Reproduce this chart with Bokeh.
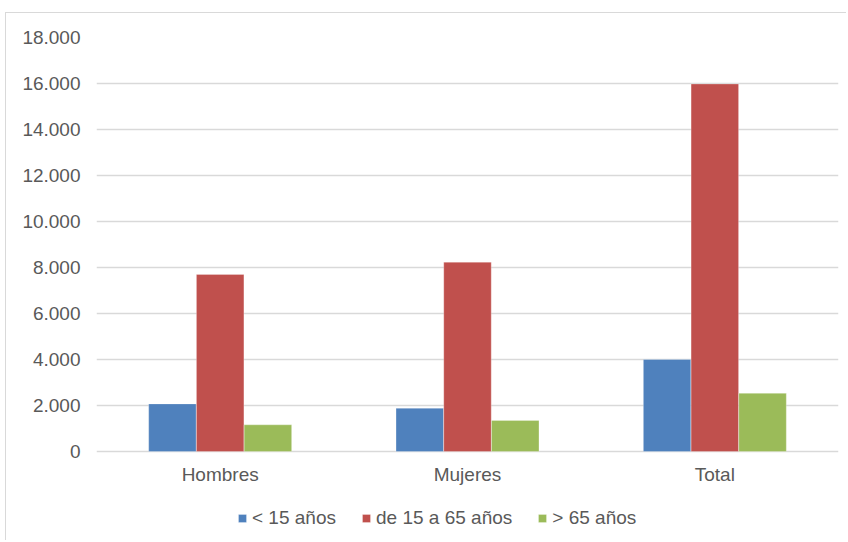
from bokeh.plotting import figure
from bokeh.models import (ColumnDataSource, FactorRange, Range1d, Legend, LegendItem,
                          CustomJSTickFormatter, FixedTicker)
from bokeh.transform import dodge
from bokeh.embed import file_html
from bokeh.resources import INLINE

categories = ["Hombres", "Mujeres", "Total"]
series_names = ["< 15 años", "de 15 a 65 años", "> 65 años"]
menores_15 = [2070, 1880, 4000]
de_15_a_65 = [7700, 8230, 15980]
mayores_65 = [1160, 1350, 2530]
y_ticks = [0, 2000, 4000, 6000, 8000, 10000, 12000, 14000, 16000, 18000]

colors = ["#4F81BD", "#C0504D", "#9BBB59"]
FONT = "Liberation Sans"
TXT = "#595959"
GRID = "#D9D9D9"

src = ColumnDataSource(dict(cat=categories, a=menores_15, b=de_15_a_65, c=mayores_65))

# frame runs down to the bottom of the chart area so the legend can sit inside it
y_max = 18000
y_min = -y_max * 90 / 414

p = figure(x_range=FactorRange(*categories), y_range=Range1d(y_min, y_max),
           x_axis_location="above",
           width=841, height=528, output_backend="svg", toolbar_location=None,
           min_border_left=90, min_border_right=9, min_border_top=24, min_border_bottom=0)
p.margin = (12, 0, 0, 5)
p.styles = {"border-left": "1px solid #D9D9D9", "border-top": "1px solid #D9D9D9"}
p.outline_line_color = None
p.background_fill_color = "white"
p.border_fill_color = "white"

renderers = []
for key, off, col in zip(["a", "b", "c"], [-0.193, 0.0, 0.193], colors):
    r = p.vbar(x=dodge("cat", off, range=p.x_range), top=key, bottom=0, width=0.192, source=src,
               fill_color=col, line_color="white", line_alpha=0.35, line_width=0.8)
    renderers.append(r)

p.yaxis.ticker = FixedTicker(ticks=y_ticks)
p.yaxis.formatter = CustomJSTickFormatter(code="return tick.toFixed(0).replace(/\\B(?=(\\d{3})+(?!\\d))/g, '.');")
for ax in (p.xaxis, p.yaxis):
    ax.axis_line_color = None
    ax.major_tick_line_color = None
    ax.minor_tick_line_color = None
    ax.major_tick_out = 0
    ax.major_tick_in = 0
    ax.minor_tick_out = 0
    ax.major_label_text_font = FONT
    ax.major_label_text_font_size = "19px"
    ax.major_label_text_color = TXT
p.yaxis.major_label_standoff = 16
p.xaxis.fixed_location = 0
p.xaxis.major_label_standoff = -33

p.xgrid.grid_line_color = None
p.ygrid.grid_line_color = GRID
p.ygrid.grid_line_width = 1.3

legend = Legend(items=[LegendItem(label=n, renderers=[r]) for n, r in zip(series_names, renderers)],
                orientation="horizontal", location=(141, 12))
legend.glyph_width = 10
legend.glyph_height = 10
legend.label_standoff = 5
legend.spacing = 25
legend.padding = 0
legend.margin = 0
legend.border_line_color = None
legend.background_fill_alpha = 0
legend.label_text_font = FONT
legend.label_text_font_size = "19px"
legend.label_text_color = TXT
p.add_layout(legend, "center")

open("out.html", "w").write(file_html(p, INLINE))
